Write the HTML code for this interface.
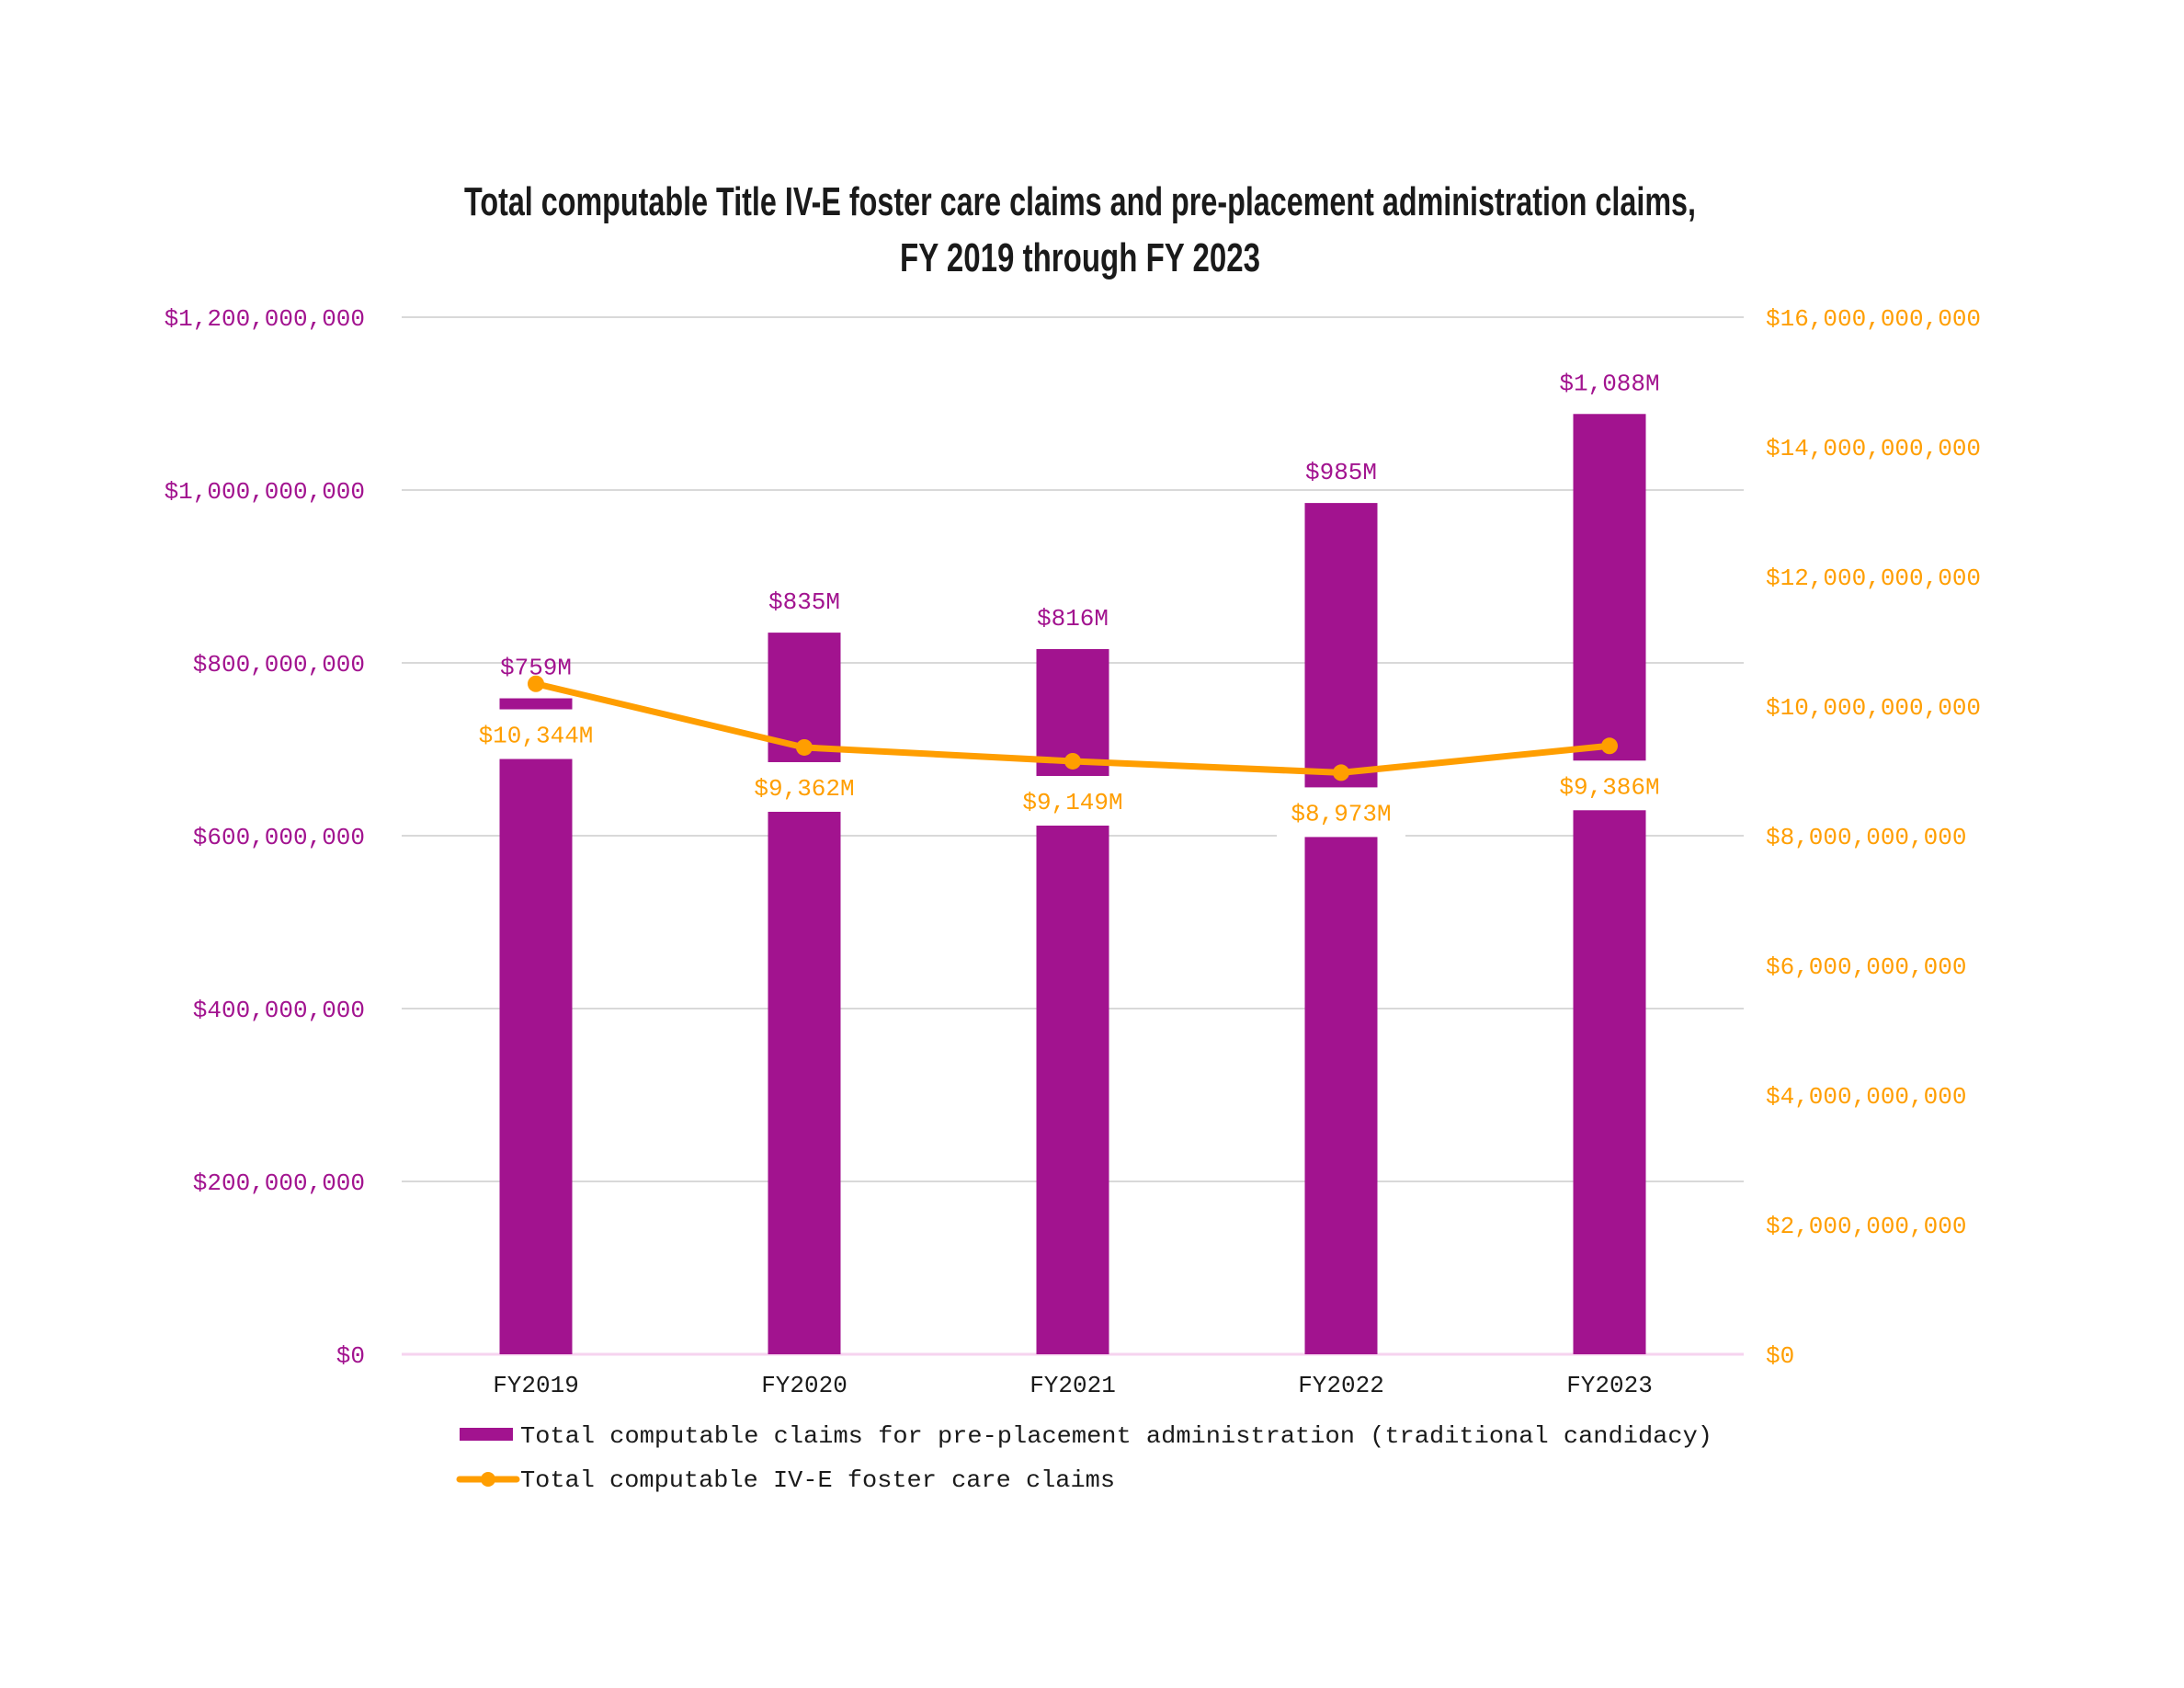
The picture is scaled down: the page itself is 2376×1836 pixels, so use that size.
<!DOCTYPE html>
<html><head><meta charset="utf-8"><style>
html,body{margin:0;padding:0;background:#fff;}
svg{display:block;}
.mono{font-family:"Liberation Mono","DejaVu Sans Mono",monospace;}
</style></head><body>
<svg id="chart" width="2376" height="1836" viewBox="0 0 2376 1836" xmlns="http://www.w3.org/2000/svg">
<rect width="2376" height="1836" fill="#fff"/>
<g font-family="'Liberation Sans Narrow','Liberation Sans',sans-serif" font-size="44" font-weight="bold" fill="#1a1a1a" text-anchor="middle">
<text x="1175" y="234" textLength="1340" lengthAdjust="spacingAndGlyphs">Total computable Title IV-E foster care claims and pre-placement administration claims,</text>
<text x="1175" y="295" textLength="392" lengthAdjust="spacingAndGlyphs">FY 2019 through FY 2023</text>
</g>
<g id="grid"></g><g id="bars"></g><g id="line"></g><g id="labels"></g>
<g>
<rect x="500" y="1553" width="58" height="14" fill="#A2138F"/>
<text class="mono" x="566" y="1569" font-size="26" fill="#1a1a1a" textLength="1297" lengthAdjust="spacingAndGlyphs">Total computable claims for pre-placement administration (traditional candidacy)</text>
<line x1="500" y1="1609" x2="562" y2="1609" stroke="#FF9E00" stroke-width="7" stroke-linecap="round"/>
<circle cx="531" cy="1609" r="8" fill="#FF9E00"/>
<text class="mono" x="566" y="1617" font-size="26" fill="#1a1a1a" textLength="647" lengthAdjust="spacingAndGlyphs">Total computable IV-E foster care claims</text>
</g>
</svg>
<script>
const categories = ["FY2019","FY2020","FY2021","FY2022","FY2023"];
const barValues = [759, 835, 816, 985, 1088];
const lineValues = [10344, 9362, 9149, 8973, 9386];
const barLabels = ["$759M","$835M","$816M","$985M","$1,088M"];
const lineLabels = ["$10,344M","$9,362M","$9,149M","$8,973M","$9,386M"];
const leftTicks = [0,200,400,600,800,1000,1200];
const leftTickLabels = ["$0","$200,000,000","$400,000,000","$600,000,000","$800,000,000","$1,000,000,000","$1,200,000,000"];
const rightTicks = [0,2000,4000,6000,8000,10000,12000,14000,16000];
const rightTickLabels = ["$0","$2,000,000,000","$4,000,000,000","$6,000,000,000","$8,000,000,000","$10,000,000,000","$12,000,000,000","$14,000,000,000","$16,000,000,000"];

const NS="http://www.w3.org/2000/svg";
const X0=437, X1=1897, Y0=1473, H=1128;
const PURPLE="#A2138F", ORANGE="#FF9E00";
const band=(X1-X0)/categories.length;
const xc=i=>X0+band*(i+0.5);
const yL=v=>Y0-v/1200*H;
const yR=v=>Y0-v/16000*H;
function mk(tag,attrs,parent,txt){const e=document.createElementNS(NS,tag);for(const k in attrs)e.setAttribute(k,attrs[k]);if(txt!==undefined)e.textContent=txt;parent.appendChild(e);return e;}
const grid=document.getElementById('grid'),bars=document.getElementById('bars'),line=document.getElementById('line'),labels=document.getElementById('labels');

leftTicks.forEach((t,i)=>{
  const y=yL(t);
  const g=mk('line',{x1:X0,x2:X1,y1:y,y2:y,stroke:t===0?"#f6d3ef":"#d9d9d9","stroke-width":t===0?3:2},grid);
  
  
  const tx=mk('text',{x:397,y:y+9,"text-anchor":"end","font-size":26,fill:PURPLE,class:"mono"},grid,leftTickLabels[i]);
  
  
});
rightTicks.forEach((t,i)=>{
  const tx=mk('text',{x:1921,y:yR(t)+9,"font-size":26,fill:ORANGE,class:"mono"},grid,rightTickLabels[i]);
  
  
});
categories.forEach((c,i)=>{
  const tx=mk('text',{x:xc(i),y:1514,"text-anchor":"middle","font-size":26,fill:"#1a1a1a",class:"mono"},grid,c);
  
  
});
const bw=79;
barValues.forEach((v,i)=>{
  const r=mk('rect',{x:xc(i)-bw/2,y:yL(v),width:bw,height:Y0-yL(v),fill:PURPLE},bars);
  
  
  const t=mk('text',{x:xc(i),y:yL(v)-26,"text-anchor":"middle","font-size":26,fill:PURPLE,class:"mono"},labels,barLabels[i]);
  
  
});
const pts=lineValues.map((v,i)=>xc(i)+","+yR(v)).join(" ");
const pl=mk('polyline',{points:pts,fill:"none",stroke:ORANGE,"stroke-width":7,"stroke-linejoin":"round"},line);


lineValues.forEach((v,i)=>{
  const c=mk('circle',{cx:xc(i),cy:yR(v),r:9,fill:ORANGE},line);
  
  
  const y=yR(v);
  const top=Math.max(y+16, yL(barValues[i])+12);
  const b=mk('rect',{x:xc(i)-70,y:top,width:140,height:54,fill:"#fff"},labels);
  
  
  const t=mk('text',{x:xc(i),y:top+36,"text-anchor":"middle","font-size":26,fill:ORANGE,class:"mono"},labels,lineLabels[i]);
  
  
});
</script>
</body></html>
